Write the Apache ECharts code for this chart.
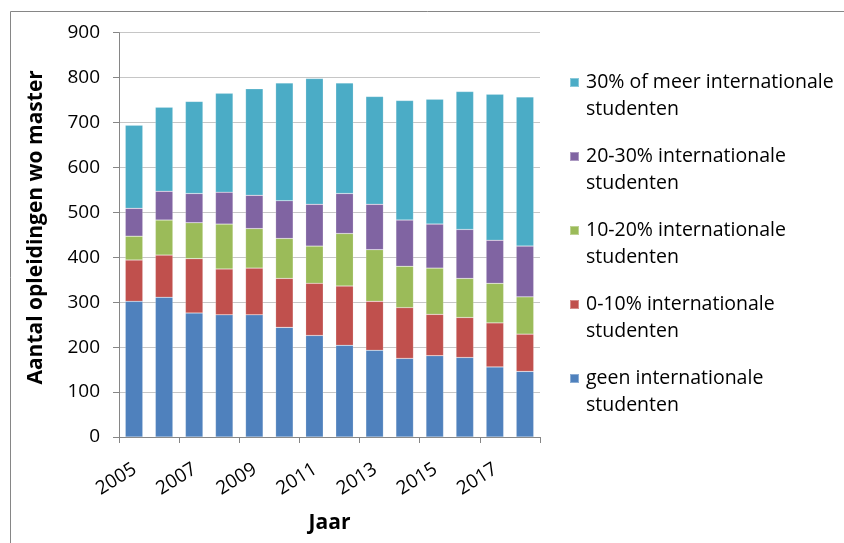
<!DOCTYPE html>
<html>
<head>
<meta charset="utf-8">
<script src="https://cdn.jsdelivr.net/npm/echarts@6/dist/echarts.min.js"></script>
<style>html,body{margin:0;padding:0;background:#fff}#c{width:844px;height:543px}</style>
</head>
<body>
<div id="c"></div>
<script>
const years = ['2005','2006','2007','2008','2009','2010','2011','2012','2013','2014','2015','2016','2017','2018'];
const seriesNames = ['geen internationale studenten','0-10% internationale studenten','10-20% internationale studenten','20-30% internationale studenten','30% of meer internationale studenten'];
const geen   = [302,311,276,272,272,244,226,204,193,175,181,177,156,146];
const p0_10  = [92,94,121,102,104,109,116,132,109,113,92,89,98,83];
const p10_20 = [53,78,80,100,88,89,83,117,115,92,103,87,88,83];
const p20_30 = [62,64,65,71,74,84,93,89,101,103,98,109,96,113];
const p30    = [185,187,205,220,237,262,280,246,240,266,278,307,325,332];
const yTicks = [0,100,200,300,400,500,600,700,800,900];
const colors = ['#4F81BD','#C0504D','#9BBB59','#8064A2','#4BACC6'];
const values = [geen,p0_10,p10_20,p20_30,p30];
const FONT = 'Open Sans';

const chart = echarts.init(document.getElementById('c'));
chart.setOption({
  animation: false,
  textStyle: {fontFamily: FONT},
  graphic: [{type:'rect', shape:{x:10.5,y:11.5,width:900,height:700}, style:{fill:'none', stroke:'#868686', lineWidth:1}, silent:true}],
  grid: {left:119, right:304, top:32.7, bottom:106, containLabel:false},
  legend: {
    orient:'vertical', left:569, top:69, padding:0,
    data: seriesNames.slice().reverse(),
    itemWidth:9, itemHeight:36, itemGap:20,
    icon:'path://M0,0L9,0L9,9L0,9Z M0,36L9,36Z',
    formatter: n => n.replace(' studenten','\nstudenten'),
    textStyle:{fontFamily:FONT, fontSize:19.5, color:'#000', lineHeight:27, padding:[0,0,0,2]}
  },
  xAxis: {
    type:'category', data: years,
    name:'Jaar', nameLocation:'middle', nameGap:76,
    nameTextStyle:{fontFamily:FONT, fontSize:21, fontWeight:'bold', color:'#000'},
    axisLine:{lineStyle:{color:'#868686'}},
    axisTick:{show:true, length:6, lineStyle:{color:'#868686'}},
    axisLabel:{interval:1, rotate:32, fontSize:19, color:'#000', margin:20, verticalAlign:'top', padding:[0,5,0,0], fontFamily:FONT}
  },
  yAxis: {
    type:'value', min:0, max:900, interval:100,
    name:'Aantal opleidingen wo master', nameLocation:'middle', nameGap:72,
    nameTextStyle:{fontFamily:FONT, fontSize:21, fontWeight:'bold', color:'#000', padding:[0,0,0,15]},
    axisLine:{show:true, lineStyle:{color:'#868686'}},
    axisTick:{show:true, length:6, lineStyle:{color:'#868686'}},
    axisLabel:{fontSize:19, color:'#000', margin:19, fontFamily:FONT, formatter: v => yTicks.includes(v) ? String(v) : ''},
    splitLine:{lineStyle:{color:'#c6c6c6'}}
  },
  series: seriesNames.map((n,i)=>({
    name:n, type:'bar', stack:'total', barWidth:17.5,
    itemStyle:{color:colors[i], borderColor:'rgba(255,255,255,0.35)', borderWidth:0.5},
    data: values[i]
  }))
});
</script>
</body>
</html>
